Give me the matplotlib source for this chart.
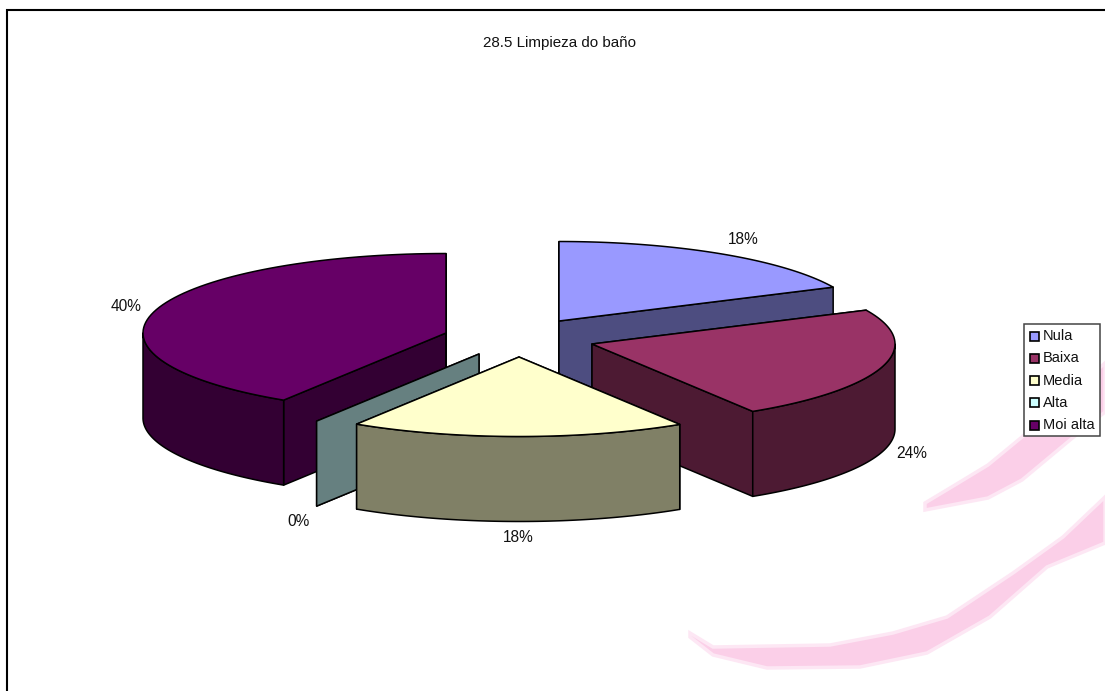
import numpy as np
import matplotlib
matplotlib.use('Agg')
import matplotlib.pyplot as plt
from matplotlib.patches import Polygon

plt.rcParams['font.family'] = ['Liberation Sans', 'DejaVu Sans']

title = '28.5 Limpieza do baño'
categories = ['Nula', 'Baixa', 'Media', 'Alta', 'Moi alta']
# shares as drawn in the picture; the printed labels are rounded differently
shares = [18.0, 23.1, 17.9, 0.0, 41.0]
labels = ['18%', '24%', '18%', '0%', '40%']
top_colors = ['#9999FF', '#993366', '#FFFFCC', '#CCFFFF', '#660066']
side_colors = ['#4D4D80', '#4D1A33', '#808066', '#668080', '#330033']

# apex of each exploded slice, in pixels
apex_x = [559, 592, 519, 479, 446]
apex_y = [321, 344, 357, 354, 333]
label_x = [743, 911.5, 518, 299, 126]
label_y = [239, 453, 537, 521, 306]

A, B, DEPTH = 303, 79.5, 85
W, H = 1105, 691

fig = plt.figure(figsize=(W / 100, H / 100), dpi=100)
ax = fig.add_axes([0, 0, 1, 1])
ax.set_xlim(0, W)
ax.set_ylim(H, 0)
ax.axis('off')

# pink watermark behind the chart
mark1_x = [690, 713, 830, 893, 947, 1013, 1063, 1105, 1105, 1047, 990, 927, 860, 767, 713, 690]
mark1_y = [633, 647, 645, 633, 617, 573, 537, 497, 543, 567, 617, 653, 667, 668, 655, 637]
mark2_x = [925, 955, 988, 1022, 1105, 1105, 1070, 1022, 988, 925]
mark2_y = [503, 485, 465, 437, 363, 412, 440, 480, 498, 510]
for mx, my in ((mark1_x, mark1_y), (mark2_x, mark2_y)):
    ax.fill(mx, my, fc='#FBCFE8', ec='#FDE7F4', lw=2.5, zorder=0)

# frame
ax.plot([7, 7, W], [H, 10, 10], color='black', lw=1.5, solid_joinstyle='miter', zorder=1)


def rim(cx, cy, a0, a1):
    t = np.radians(np.linspace(a0, a1, 80))
    return cx + A * np.sin(t), cy - B * np.cos(t)


def draw_slice(i, a0, a1, z):
    cx, cy = apex_x[i], apex_y[i]
    kw = dict(ec='black', lw=1.1, joinstyle='round', zorder=z)
    # flat cut faces
    for a in (a0, a1):
        x, y = rim(cx, cy, a, a)
        x, y = x[0], y[0]
        ax.add_patch(Polygon([(cx, cy), (x, y), (x, y + DEPTH), (cx, cy + DEPTH)],
                             fc=side_colors[i], **kw))
    # curved outer wall, only the part facing the viewer
    lo, hi = max(a0, 90), min(a1, 270)
    if lo < hi:
        x, y = rim(cx, cy, lo, hi)
        ax.add_patch(Polygon(np.r_[np.c_[x, y], np.c_[x[::-1], y[::-1] + DEPTH]],
                             fc=side_colors[i], **kw))
    if a1 > a0:
        x, y = rim(cx, cy, a0, a1)
        ax.add_patch(Polygon(np.r_[[(cx, cy)], np.c_[x, y]], fc=top_colors[i], **kw))


edges = np.r_[0, np.cumsum(shares)] * 3.6
for z, i in enumerate([0, 4, 1, 3, 2]):
    draw_slice(i, edges[i], edges[i + 1], 2 + z)

for lx, ly, s in zip(label_x, label_y, labels):
    ax.text(lx, ly, s, ha='center', va='center', fontsize=11.2, color='#111111', zorder=10)

ax.text(559.5, 43, title, ha='center', va='center', fontsize=10.9, color='#111111', zorder=10)

# legend
ax.add_patch(plt.Rectangle((1023.5, 323.5), 76.5, 112, fc='white', ec='#444444', lw=1.1, zorder=10))
for k, c in enumerate(categories):
    yy = 336 + k * 22.3
    ax.add_patch(plt.Rectangle((1029.5, yy - 4.5), 9, 9, fc=top_colors[k], ec='black', lw=1.2, zorder=11))
    ax.text(1043, yy, c, ha='left', va='center', fontsize=10.5, color='#111111', zorder=11)

fig.savefig('out.png', dpi=100)
